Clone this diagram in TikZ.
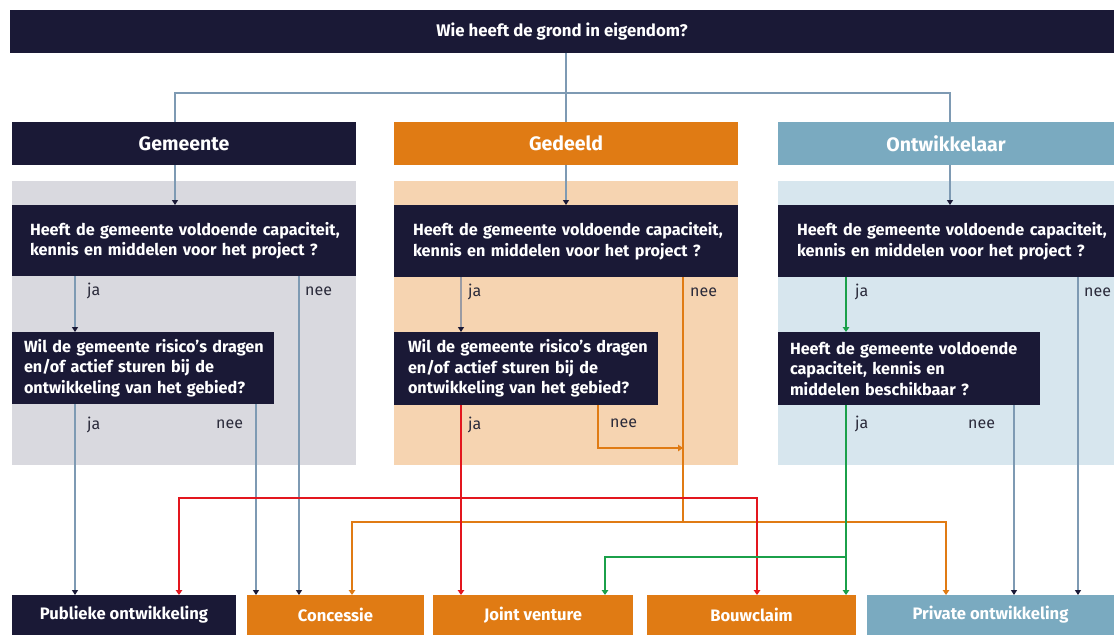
\documentclass[tikz,border=0pt]{standalone}
\usepackage{fontspec}
\setmainfont{Fira Sans}
\usetikzlibrary{arrows.meta,calc}
\definecolor{navy}{HTML}{1A1936}
\definecolor{orng}{HTML}{E07B14}
\definecolor{lblue}{HTML}{7AAAC0}
\definecolor{pgrey}{HTML}{D9D9DF}
\definecolor{porng}{HTML}{F6D4B1}
\definecolor{pblue}{HTML}{D7E6EE}
\definecolor{lineblue}{HTML}{7E9AB3}
\definecolor{linegrey}{HTML}{9A9BA3}
\definecolor{redl}{HTML}{E3161E}
\definecolor{greenl}{HTML}{1BA04A}
\definecolor{labtxt}{HTML}{2A2A3A}
\begin{document}
\begin{tikzpicture}[x=1pt,y=-1pt,
  box/.style={rectangle, anchor=north west, inner sep=0pt, outer sep=0pt},
  panel/.style={box, minimum height=284},
  head/.style={box, minimum height=43, text=white, font=\bfseries\fontsize{19.5}{22}\selectfont},
  quest/.style={box, fill=navy, text=white, align=left, font=\bfseries\fontsize{16.2}{20.5}\selectfont},
  endbox/.style={box, minimum height=40, text=white, font=\bfseries\fontsize{16.6}{18}\selectfont},
  lab/.style={anchor=west, inner sep=0pt, text=labtxt, font=\fontsize{16}{18}\selectfont},
  conn/.style={draw=lineblue, line width=1.2pt},
  fl/.style={draw=lineblue, line width=1.2pt, -{Triangle[width=6pt,length=5pt,color=navy]}},
  flgrey/.style={draw=linegrey, line width=1.4pt, -{Triangle[width=6pt,length=5pt,color=navy]}},
  redfl/.style={draw=redl, line width=2pt, -{Triangle[width=6.5pt,length=5pt]}},
  redln/.style={draw=redl, line width=2pt},
  orfl/.style={draw=orng, line width=2pt, -{Triangle[width=6.5pt,length=5pt]}},
  orln/.style={draw=orng, line width=2pt},
  grfl/.style={draw=greenl, line width=2pt, -{Triangle[width=6.5pt,length=5pt]}},
  ]
\useasboundingbox (0,0) rectangle (1114,635);
% x positions
\coordinate (c175) at (175,0);
\coordinate (c566) at (566,0);
\coordinate (c950) at (950,0);
\coordinate (cA) at (75,0);
\coordinate (cB) at (256,0);
\coordinate (cC) at (299,0);
\coordinate (cD) at (179,0);
\coordinate (cE) at (352,0);
\coordinate (cF) at (461,0);
\coordinate (cG) at (605,0);
\coordinate (cH) at (683,0);
\coordinate (cH2) at (598,0);
\coordinate (cI) at (757,0);
\coordinate (cJ) at (846,0);
\coordinate (cK) at (946,0);
\coordinate (cL) at (1014,0);
\coordinate (cM) at (1078,0);
% y positions
\coordinate (y93) at (0,93);
\coordinate (cyR) at (0,498);
\coordinate (cyO) at (0,522);
\coordinate (cyG) at (0,557);
\coordinate (cyN) at (0,448);

% top
\node[box, fill=navy, minimum width=1104, minimum height=43, text=white, font=\bfseries\fontsize{16.8}{18}\selectfont] (top) at (10,10) {Wie heeft de grond in eigendom?};
% headers
\node[head, fill=navy, minimum width=344] (hg) at (12,122) {Gemeente};
\node[head, fill=orng, minimum width=344] (ho) at (394,122) {Gedeeld};
\node[head, fill=lblue, minimum width=336] (hb) at (778,122) {Ontwikkelaar};
% panels
\node[panel, fill=pgrey, minimum width=344] (pg) at (12,181) {};
\node[panel, fill=porng, minimum width=344] (po) at (394,181) {};
\node[panel, fill=pblue, minimum width=336] (pb) at (778,181) {};
% questions 1
\node[quest, minimum width=344, minimum height=71, inner xsep=18, text width=308] (q1g) at (12,205)
  {\mbox{Heeft de gemeente voldoende capaciteit,}\\\mbox{kennis en middelen voor het project ?}};
\node[quest, minimum width=344, minimum height=72, inner xsep=19, text width=306] (q1o) at (394,205)
  {\mbox{Heeft de gemeente voldoende capaciteit,}\\\mbox{kennis en middelen voor het project ?}};
\node[quest, minimum width=336, minimum height=72, inner xsep=19, text width=298] (q1b) at (778,205)
  {\mbox{Heeft de gemeente voldoende capaciteit,}\\\mbox{kennis en middelen voor het project ?}};
% questions 2
\node[quest, minimum width=262, minimum height=72, inner xsep=12, text width=238] (q2g) at (12,332)
  {\mbox{Wil de gemeente risico’s dragen}\\\mbox{en/of actief sturen bij de}\\\mbox{ontwikkeling van het gebied?}};
\node[quest, minimum width=264, minimum height=73, inner xsep=14, text width=236] (q2o) at (394,332)
  {\mbox{Wil de gemeente risico’s dragen}\\\mbox{en/of actief sturen bij de}\\\mbox{ontwikkeling van het gebied?}};
\node[quest, minimum width=262, minimum height=73, inner xsep=12, text width=238] (q2b) at (778,332)
  {\mbox{Heeft de gemeente voldoende}\\\mbox{capaciteit, kennis en}\\\mbox{middelen beschikbaar ?}};
% end boxes
\node[endbox, fill=navy, minimum width=224] (pub) at (12,595) {Publieke ontwikkeling};
\node[endbox, fill=orng, minimum width=177] (con) at (247,595) {Concessie};
\node[endbox, fill=orng, minimum width=200] (jv) at (433,595) {Joint venture};
\node[endbox, fill=orng, minimum width=209] (bou) at (647,595) {Bouwclaim};
\node[endbox, fill=lblue, minimum width=247] (pri) at (867,595) {Private ontwikkeling};
% labels
\node[lab] (l1) at (87,291) {ja};
\node[lab] (l2) at (305,291) {nee};
\node[lab] (l3) at (87,425) {ja};
\node[lab] (l4) at (216,424) {nee};
\node[lab] (l5) at (468,292) {ja};
\node[lab] (l6) at (690,292) {nee};
\node[lab] (l7) at (468,425) {ja};
\node[lab] (l8) at (610,423) {nee};
\node[lab] (l9) at (855,292) {ja};
\node[lab] (l10) at (1084,292) {nee};
\node[lab] (l11) at (855,424) {ja};
\node[lab] (l12) at (968,424) {nee};

% top connectors
\draw[conn] (top.south -| c566) -- (ho.north -| c566);
\draw[conn] (hg.north -| c175) -- (c175 |- y93) -- (c950 |- y93) -- (hb.north -| c950);
% header to question
\draw[fl] (hg.south -| c175) -- (q1g.north -| c175);
\draw[fl] (ho.south -| c566) -- (q1o.north -| c566);
\draw[fl] (hb.south -| c950) -- (q1b.north -| c950);
% Gemeente
\draw[fl] (q1g.south -| cA) -- (q2g.north -| cA);
\draw[fl] (q2g.south -| cA) -- (pub.north -| cA);
\draw[fl] (q2g.south -| cB) -- (con.north -| cB);
\draw[fl] (q1g.south -| cC) -- (con.north -| cC);
% Gedeeld
\draw[flgrey] (q1o.south -| cF) -- (q2o.north -| cF);
\draw[orln] (q1o.south -| cH) -- (cH |- cyO);
\draw[orfl] (q2o.south -| cH2) |- (cH |- cyN);
\draw[orfl] (cH |- cyO) -| (con.north -| cE);
\draw[orfl] (cH |- cyO) -| (pri.north -| cK);
\draw[redfl] (q2o.south -| cF) -- (jv.north -| cF);
\draw[redfl] (cF |- cyR) -| (pub.north -| cD);
\draw[redfl] (cF |- cyR) -| (bou.north -| cI);
% Ontwikkelaar
\draw[grfl] (q1b.south -| cJ) -- (q2b.north -| cJ);
\draw[grfl] (q2b.south -| cJ) -- (bou.north -| cJ);
\draw[grfl] (cJ |- cyG) -| (jv.north -| cG);
\draw[fl] (q2b.south -| cL) -- (pri.north -| cL);
\draw[fl] (q1b.south -| cM) -- (pri.north -| cM);
\end{tikzpicture}
\end{document}
